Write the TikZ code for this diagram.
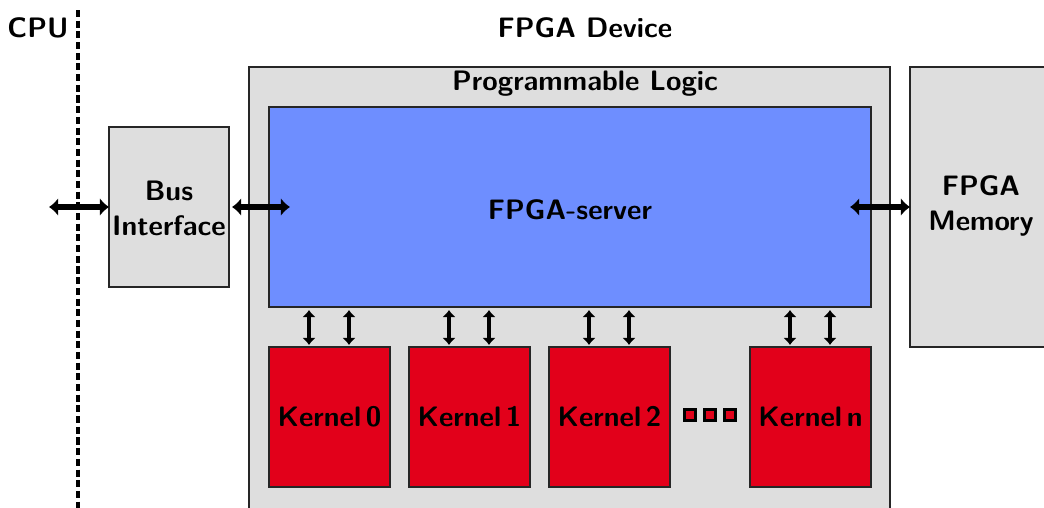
\documentclass[tikz,border=0pt]{standalone}
\usetikzlibrary{arrows.meta,calc}
\newdimen\pxu \pxu=0.025cm
\definecolor{boxgray}{HTML}{DEDEDE}
\definecolor{srvblue}{HTML}{6E8EFF}
\definecolor{krnred}{HTML}{E2001A}
\tikzset{
  lbl/.style={font=\sffamily\bfseries\fontsize{20}{25}\selectfont, align=center},
  box/.style={draw=black!85, line width=1.4pt, outer sep=0pt, inner sep=0pt, anchor=north west, lbl},
  graybox/.style={box, fill=boxgray},
  kernel/.style={box, fill=krnred, minimum width={121*\pxu}, minimum height={140*\pxu}},
  dotbox/.style={draw=black, fill=krnred, line width=2pt, minimum size={11*\pxu}, inner sep=0pt, outer sep=0pt},
  harr/.style={line width=3.6pt, {Latex[length=6.5pt,width=13pt]}-{Latex[length=6.5pt,width=13pt]}},
  varr/.style={line width=2.4pt, {Latex[length=5pt,width=9.5pt]}-{Latex[length=5pt,width=9.5pt]}},
  sep/.style={line width=2.8pt, dash pattern=on 5pt off 2.6pt}
}
\begin{document}
\begin{tikzpicture}[x=0.025cm, y=-0.025cm]
\clip (0,0) rectangle (1044,507);
\fill[white] (0,0) rectangle (1044,507);
% titles
\node[lbl] (cpu) at (38,28) {CPU};
\node[lbl] (dev) at (585,28) {FPGA Device};
% separator
\coordinate (septop) at (78,10);
\coordinate (sepbot) at (78,510);
\draw[sep] (septop) -- (sepbot);
% programmable logic
\node[graybox, minimum width={641*\pxu}, minimum height={442*\pxu}] (pl) at (249,67) {};
\node[lbl] (pltitle) at (585,84) {Programmable Logic};
% server
\node[box, fill=srvblue, minimum width={602*\pxu}, minimum height={200*\pxu}] (srv) at (269,107) {};
\node[lbl] (srvlbl) at (570,210) {FPGA-server};
% bus interface
\node[graybox, minimum width={120*\pxu}, minimum height={160*\pxu}] (bus) at (109,127) {};
\node[lbl] (buslbl) at (169,208) {Bus\\Interface};
% memory
\node[graybox, minimum width={160*\pxu}, minimum height={280*\pxu}] (mem) at (910,67) {};
\node[lbl] (memlbl) at (981,206) {FPGA\\Memory};
% kernels
\node[kernel] (k0) at (269,347) {};
\node[kernel] (k1) at (409,347) {};
\node[kernel] (k2) at (549,347) {};
\node[kernel] (kn) at (750,347) {};
\node[lbl] at (k0.center) {Kernel\,0};
\node[lbl] at (k1.center) {Kernel\,1};
\node[lbl] at (k2.center) {Kernel\,2};
\node[lbl] at (kn.center) {Kernel\,n};
% dots
\node[dotbox] (d1) at (690,415) {};
\node[dotbox] (d2) at (710,415) {};
\node[dotbox] (d3) at (730,415) {};
% horizontal arrows
\coordinate (cpuend) at (49,207);
\coordinate (srvin) at (290,207);
\coordinate (srvout) at (850,207);
\draw[harr] (cpuend) -- (bus.west |- cpuend);
\draw[harr] (bus.east |- srvin) ++(3,0) -- (srvin);
\draw[harr] (srvout) -- (mem.west |- srvout);
% vertical arrows
\foreach \k in {k0,k1,k2,kn}{
  \path (\k.north west) +(40,0) coordinate (\k a) +(80,0) coordinate (\k b);
  \draw[varr] ($(\k a |- srv.south)+(0,3)$) -- ($(\k a)+(0,-2)$);
  \draw[varr] ($(\k b |- srv.south)+(0,3)$) -- ($(\k b)+(0,-2)$);
}
\end{tikzpicture}
\end{document}
